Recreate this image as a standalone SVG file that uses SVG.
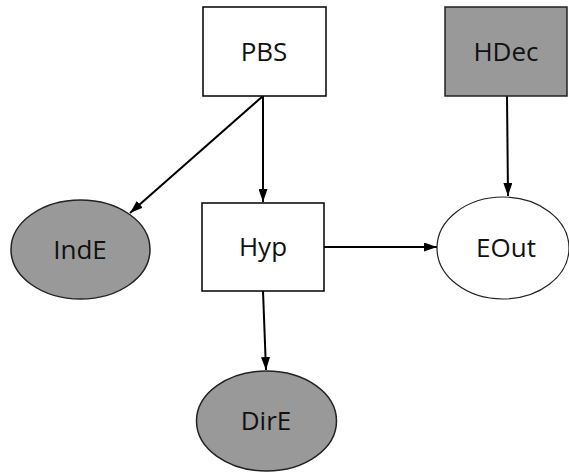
<svg xmlns="http://www.w3.org/2000/svg" width="569" height="472" viewBox="0 0 569 472">
  <defs>
    <marker id="arrow" viewBox="0 0 13 9" refX="13" refY="4.5" markerWidth="13" markerHeight="9" markerUnits="userSpaceOnUse" orient="auto">
      <path d="M0,0 L13,4.5 L0,9 z" fill="#000"/>
    </marker>
    <style>
      .box { fill: #fff; stroke: #000; stroke-width: 1.5; }
      .shade { fill: #999; stroke: #222; stroke-width: 1.5; }
      .open { fill: #fff; stroke: #222; stroke-width: 1.2; }
      .lbl { font-family: "Open Sans", "Noto Sans", sans-serif; font-size: 26px; fill: #111; text-anchor: middle; }
      .edge { stroke: #000; stroke-width: 2; fill: none; marker-end: url(#arrow); }
    </style>
  </defs>
  <rect width="569" height="472" fill="#fff"/>

  <g id="connectors">
    <line class="edge" x1="263" y1="96" x2="263" y2="202"/>
    <line class="edge" x1="263" y1="96" x2="130" y2="213"/>
    <line class="edge" x1="263" y1="291" x2="266" y2="370"/>
    <line class="edge" x1="324" y1="247" x2="437" y2="247"/>
    <line class="edge" x1="507" y1="96" x2="508" y2="196"/>
  </g>

  <g id="PBS">
    <rect class="box" x="203" y="7" width="123" height="89"/>
    <text class="lbl" x="264" y="61">PBS</text>
  </g>
  <g id="HDec">
    <rect class="shade" x="445" y="7" width="122" height="89"/>
    <text class="lbl" x="506" y="61">HDec</text>
  </g>
  <g id="Hyp">
    <rect class="box" x="202" y="203" width="122" height="88"/>
    <text class="lbl" x="263" y="256">Hyp</text>
  </g>
  <g id="IndE">
    <ellipse class="shade" cx="80.5" cy="249.5" rx="69.5" ry="49.5"/>
    <text class="lbl" x="80" y="259">IndE</text>
  </g>
  <g id="EOut">
    <ellipse class="open" cx="503" cy="248" rx="66" ry="51"/>
    <text class="lbl" x="506" y="257">EOut</text>
  </g>
  <g id="DirE">
    <ellipse class="shade" cx="266.5" cy="421" rx="70" ry="50"/>
    <text class="lbl" x="266" y="430">DirE</text>
  </g>
</svg>
